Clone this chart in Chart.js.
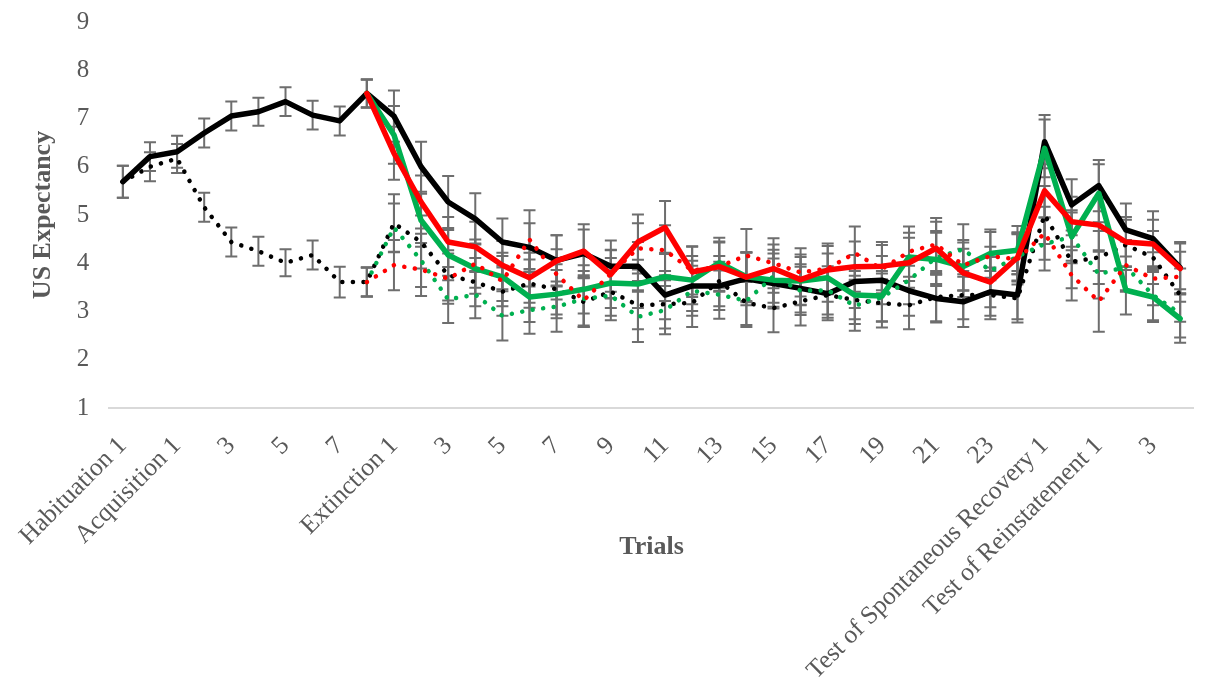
<!DOCTYPE html>
<html>
<head>
<meta charset="utf-8">
<script src="https://cdn.jsdelivr.net/npm/chart.js@4.4.1/dist/chart.umd.min.js"></script>
<style>
  body { margin: 0; background: #fff; }
  canvas { display: block; }
</style>
</head>
<body>
<canvas id="us-chart" width="1225" height="687"></canvas>
<script>
// categories (trials)
var trials = ['Habituation 1', '2',
  'Acquisition 1', '2', '3', '4', '5', '6', '7', '8',
  'Extinction 1', '2', '3', '4', '5', '6', '7', '8', '9', '10', '11', '12',
  '13', '14', '15', '16', '17', '18', '19', '20', '21', '22', '23', '24',
  'Test of Spontaneous Recovery 1', '2',
  'Test of Reinstatement 1', '2', '3', '4'];

var yTicks = [1, 2, 3, 4, 5, 6, 7, 8, 9];

// series values (mean US expectancy)
var blackSolid = [5.69, 6.21, 6.31, 6.70, 7.05, 7.14, 7.35, 7.07, 6.95, 7.52,
  7.05, 6.00, 5.27, 4.92, 4.44, 4.33, 4.06, 4.20, 3.94, 3.94,
  3.34, 3.53, 3.53, 3.68, 3.58, 3.48, 3.37, 3.62, 3.65, 3.43,
  3.27, 3.20, 3.41, 3.34, 6.52, 5.21, 5.61, 4.69, 4.51, 3.91];
var blackDotted = [5.69, 6.00, 6.17, 5.16, 4.44, 4.25, 4.01, 4.17, 3.61, 3.61,
  4.83, 4.44, 3.75, 3.61, 3.41, 3.58, 3.46, 3.20, 3.41, 3.13,
  3.15, 3.18, 3.63, 3.18, 3.07, 3.21, 3.34, 3.24, 3.17, 3.13,
  3.30, 3.34, 3.34, 3.27, 5.00, 4.03, 4.12, 4.38, 4.12, 3.34];
var greenSolid = [null, null, null, null, null, null, null, null, null, 7.52,
  6.66, 4.89, 4.17, 3.89, 3.72, 3.30, 3.36, 3.46, 3.59, 3.57,
  3.72, 3.65, 4.01, 3.72, 3.65, 3.63, 3.70, 3.34, 3.32, 4.13,
  4.08, 3.93, 4.20, 4.27, 6.38, 4.55, 5.45, 3.44, 3.30, 2.85];
var greenDotted = [null, null, null, null, null, null, null, null, null, 3.61,
  4.74, 4.06, 3.25, 3.35, 2.91, 3.03, 3.10, 3.26, 3.33, 2.89,
  3.03, 3.43, 3.35, 3.22, 3.73, 3.43, 3.44, 3.12, 3.29, 3.65,
  4.12, 4.29, 3.84, 4.14, 4.40, 4.55, 3.77, 3.93, 3.34, 2.96];
var redSolid = [null, null, null, null, null, null, null, null, null, 7.52,
  6.28, 5.27, 4.44, 4.34, 3.96, 3.70, 4.05, 4.25, 3.77, 4.44,
  4.74, 3.82, 3.93, 3.71, 3.89, 3.66, 3.86, 3.93, 3.94, 4.01,
  4.31, 3.80, 3.61, 4.12, 5.50, 4.86, 4.79, 4.44, 4.40, 3.89];
var redDotted = [null, null, null, null, null, null, null, null, null, 3.61,
  3.96, 3.87, 3.68, 3.99, 3.63, 4.49, 3.77, 3.23, 3.78, 4.31,
  4.27, 3.85, 3.93, 4.16, 4.00, 3.81, 3.89, 4.21, 3.88, 4.24,
  4.39, 3.96, 4.15, 4.08, 4.62, 3.75, 3.21, 3.96, 3.68, 3.72];

// error bar half-lengths
var blackSolidErr = [0.33, 0.30, 0.33, 0.30, 0.30, 0.29, 0.30, 0.30, 0.30, 0.29,
  0.53, 0.52, 0.54, 0.53, 0.49, 0.50, 0.52, 0.50, 0.53, 0.50,
  0.50, 0.52, 0.50, 0.55, 0.52, 0.50, 0.50, 0.55, 0.50, 0.52,
  0.50, 0.52, 0.50, 0.50, 0.55, 0.53, 0.53, 0.55, 0.57, 0.53];
var blackDottedErr = [0.33, 0.30, 0.30, 0.30, 0.30, 0.30, 0.28, 0.30, 0.32, 0.30,
  0.60, 0.55, 0.52, 0.50, 0.50, 0.50, 0.52, 0.52, 0.50, 0.50,
  0.50, 0.50, 0.52, 0.50, 0.50, 0.50, 0.52, 0.50, 0.50, 0.50,
  0.50, 0.50, 0.50, 0.50, 0.60, 0.55, 0.55, 0.52, 0.55, 0.55];
var greenSolidErr = [null, null, null, null, null, null, null, null, null, 0.29,
  0.60, 0.55, 0.52, 0.52, 0.50, 0.52, 0.50, 0.50, 0.52, 0.50,
  0.50, 0.50, 0.52, 0.50, 0.55, 0.50, 0.50, 0.50, 0.52, 0.50,
  0.55, 0.50, 0.50, 0.50, 0.60, 0.55, 0.60, 0.50, 0.52, 0.50];
var greenDottedErr = [null, null, null, null, null, null, null, null, null, 0.30,
  0.50, 0.55, 0.49, 0.49, 0.51, 0.49, 0.52, 0.58, 0.51, 0.52,
  0.50, 0.52, 0.50, 0.50, 0.55, 0.50, 0.50, 0.52, 0.50, 0.50,
  0.55, 0.52, 0.50, 0.50, 0.55, 0.50, 0.50, 0.52, 0.52, 0.50];
var redSolidErr = [null, null, null, null, null, null, null, null, null, 0.29,
  0.55, 0.55, 0.52, 0.52, 0.50, 0.52, 0.53, 0.56, 0.50, 0.57,
  0.55, 0.52, 0.50, 0.52, 0.50, 0.52, 0.50, 0.52, 0.50, 0.52,
  0.55, 0.50, 0.52, 0.50, 0.55, 0.52, 0.55, 0.52, 0.50, 0.52];
var redDottedErr = [null, null, null, null, null, null, null, null, null, 0.30,
  0.52, 0.55, 0.52, 0.50, 0.52, 0.61, 0.52, 0.52, 0.50, 0.52,
  0.52, 0.50, 0.52, 0.55, 0.52, 0.50, 0.52, 0.55, 0.50, 0.52,
  0.55, 0.52, 0.50, 0.52, 0.55, 0.52, 0.63, 0.52, 0.55, 0.52];

var textGray = '#595959';
var serif = '"Liberation Serif", "Times New Roman", serif';

// draw grey error bars (with caps) under the lines, using the y scale
var errorBars = {
  id: 'errorBars',
  beforeDatasetsDraw: function(chart) {
    var ctx = chart.ctx;
    var yScale = chart.scales.y;
    ctx.save();
    ctx.strokeStyle = '#6e6e6e';
    ctx.lineWidth = 2;
    chart.data.datasets.forEach(function(ds, di) {
      var meta = chart.getDatasetMeta(di);
      meta.data.forEach(function(pt, i) {
        var v = ds.data[i], e = ds.errors[i];
        if (v == null || e == null) return;
        var x = pt.x;
        var top = yScale.getPixelForValue(v + e);
        var bot = yScale.getPixelForValue(v - e);
        ctx.beginPath();
        ctx.moveTo(x, top); ctx.lineTo(x, bot);
        ctx.moveTo(x - 6, top); ctx.lineTo(x + 6, top);
        ctx.moveTo(x - 6, bot); ctx.lineTo(x + 6, bot);
        ctx.stroke();
      });
    });
    ctx.restore();
  }
};

// "Trials" sits in the middle of the rotated label band, like the Excel original
var xTitle = {
  id: 'xTitle',
  afterDraw: function(chart) {
    var ctx = chart.ctx, area = chart.chartArea;
    ctx.save();
    ctx.font = 'bold 26px ' + serif;
    ctx.fillStyle = textGray;
    ctx.textAlign = 'center';
    ctx.textBaseline = 'middle';
    ctx.fillText('Trials', (area.left + area.right) / 2, area.bottom + 139);
    ctx.restore();
  }
};

function solid(data, errors, color, order) {
  return {
    data: data, errors: errors, order: order,
    borderColor: color, backgroundColor: color,
    borderWidth: 5.5, borderJoinStyle: 'round', borderCapStyle: 'round',
    pointRadius: 0, tension: 0, fill: false
  };
}
function dotted(data, errors, color, order) {
  return {
    data: data, errors: errors, order: order,
    borderColor: color, backgroundColor: color,
    borderWidth: 4.5, borderCapStyle: 'round', borderDash: [0.1, 10.5],
    pointRadius: 0, tension: 0, fill: false
  };
}

var ctx = document.getElementById('us-chart').getContext('2d');
var chart = new Chart(ctx, {
  type: 'line',
  data: {
    labels: trials,
    datasets: [
      solid(blackSolid, blackSolidErr, '#000000', 5),
      dotted(blackDotted, blackDottedErr, '#000000', 4),
      solid(greenSolid, greenSolidErr, '#00b050', 3),
      dotted(greenDotted, greenDottedErr, '#00b050', 2),
      solid(redSolid, redSolidErr, '#ff0000', 1),
      dotted(redDotted, redDottedErr, '#ff0000', 0)
    ]
  },
  options: {
    responsive: false,
    animation: false,
    layout: { padding: { top: 22, left: 18, right: 24, bottom: 0 } },
    plugins: {
      legend: { display: false },
      tooltip: { enabled: false }
    },
    scales: {
      x: {
        offset: true,
        grid: { display: false, drawTicks: false },
        border: { display: true, color: '#d9d9d9', width: 2 },
        ticks: {
          autoSkip: false,
          minRotation: 45,
          maxRotation: 45,
          padding: 23,
          color: textGray,
          font: { family: serif, size: 25.5 },
          callback: function(val, index) {
            return index % 2 === 0 ? this.getLabelForValue(val) : '';
          }
        },
        afterFit: function(scale) { scale.height = 279; }
      },
      y: {
        min: yTicks[0],
        max: yTicks[yTicks.length - 1],
        // invisible tick marks keep the labels away from the plot
        grid: { display: true, drawOnChartArea: false, drawTicks: true, tickLength: 17, color: 'rgba(0,0,0,0)' },
        border: { display: false },
        ticks: {
          stepSize: 1,
          padding: 3,
          color: textGray,
          font: { family: serif, size: 25, lineHeight: 1.0 }
        },
        title: {
          display: true,
          text: 'US Expectancy',
          color: textGray,
          font: { family: serif, size: 26, weight: 'bold' }
        },
        afterFit: function(scale) { scale.width = 86; }
      }
    }
  },
  plugins: [errorBars, xTitle]
});
</script>
</body>
</html>
